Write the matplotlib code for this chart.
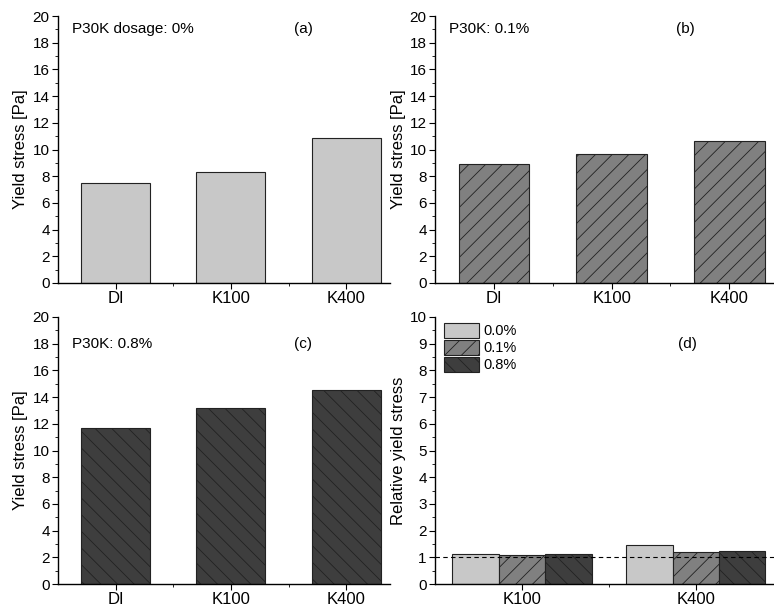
import numpy as np
import matplotlib
matplotlib.use("Agg")
import matplotlib.pyplot as plt
from matplotlib.ticker import MultipleLocator

plt.rcParams['font.family'] = ['Liberation Sans', 'DejaVu Sans']
plt.rcParams['hatch.linewidth'] = 0.6

# data
solutions = ["DI", "K100", "K400"]
stress_0 = [7.5, 8.3, 10.85]
stress_01 = [8.95, 9.7, 10.65]
stress_08 = [11.7, 13.2, 14.55]

rel_cats = ["K100", "K400"]
rel_0 = [1.11, 1.45]
rel_01 = [1.08, 1.19]
rel_08 = [1.14, 1.25]
dosage_labels = ["0.0%", "0.1%", "0.8%"]

colors = ["#c8c8c8", "#808080", "#3e3e3e"]
hatches = ["", "//", "\\\\"]

fig = plt.figure(figsize=(7.74, 6.07), dpi=100)

W, H = 774, 607
def px_axes(l, r, t, b):
    return fig.add_axes([l / W, 1 - b / H, (r - l) / W, (b - t) / H])

def style(ax):
    ax.spines['top'].set_visible(False)
    ax.spines['right'].set_visible(False)
    ax.spines['left'].set_linewidth(1.0)
    ax.spines['bottom'].set_linewidth(1.0)
    ax.tick_params(axis='y', which='major', direction='out', length=4, labelsize=11, pad=2)
    ax.tick_params(axis='y', which='minor', direction='out', length=2)
    ax.tick_params(axis='x', which='major', direction='out', length=4, labelsize=12, pad=2)
    ax.tick_params(axis='x', which='minor', direction='out', length=2)

panels = [
    (px_axes(58, 390, 16, 283), stress_0, 0, "P30K dosage: 0%", "(a)", 19),
    (px_axes(435, 774, 16, 283), stress_01, 1, "P30K: 0.1%", "(b)", 19),
    (px_axes(58, 390, 317, 584), stress_08, 2, "P30K: 0.8%", "(c)", 18),
]
x = np.arange(1, len(solutions) + 1)
for ax, vals, i, note, tag, ty in panels:
    ax.bar(x, vals, width=0.6, color=colors[i], hatch=hatches[i],
           edgecolor="#222222", linewidth=0.8)
    ax.set_ylim(0, 20)
    ax.set_xlim(0.5, 3.38)
    ax.yaxis.set_major_locator(MultipleLocator(2))
    ax.yaxis.set_minor_locator(MultipleLocator(1))
    ax.set_xticks(x)
    ax.set_xticklabels(solutions)
    ax.set_xticks([1.5, 2.5], minor=True)
    ax.set_ylabel("Yield stress [Pa]", fontsize=12, labelpad=3)
    style(ax)
    ax.text(0.62, ty, note, fontsize=11, va='center', ha='left')
    ax.text(2.55, ty, tag, fontsize=11, va='center', ha='left')

# (d) relative yield stress
ax = px_axes(435, 774, 317, 584)
xr = np.arange(1, len(rel_cats) + 1)
bw = 0.267
for j, vals in enumerate([rel_0, rel_01, rel_08]):
    ax.bar(xr + (j - 1) * bw, vals, width=bw, color=colors[j], hatch=hatches[j],
           edgecolor="#222222", linewidth=0.8, label=dosage_labels[j])
ax.axhline(1, color="black", linestyle=(0, (4, 3)), linewidth=0.8)
ax.set_ylim(0, 10)
ax.set_xlim(0.5, 2.45)
ax.yaxis.set_major_locator(MultipleLocator(1))
ax.yaxis.set_minor_locator(MultipleLocator(0.5))
ax.set_xticks(xr)
ax.set_xticklabels(rel_cats)
ax.set_xticks([1.5], minor=True)
ax.set_ylabel("Relative yield stress", fontsize=12, labelpad=3)
style(ax)
ax.text(1.9, 9.0, "(d)", fontsize=11, va='center', ha='left')
ax.legend(loc='upper left', bbox_to_anchor=(0.0, 1.01), frameon=False, fontsize=10.5,
          handlelength=2.4, handleheight=1.2, labelspacing=0.1, handletextpad=0.3,
          borderaxespad=0.2)

fig.savefig("out.png", dpi=100)
